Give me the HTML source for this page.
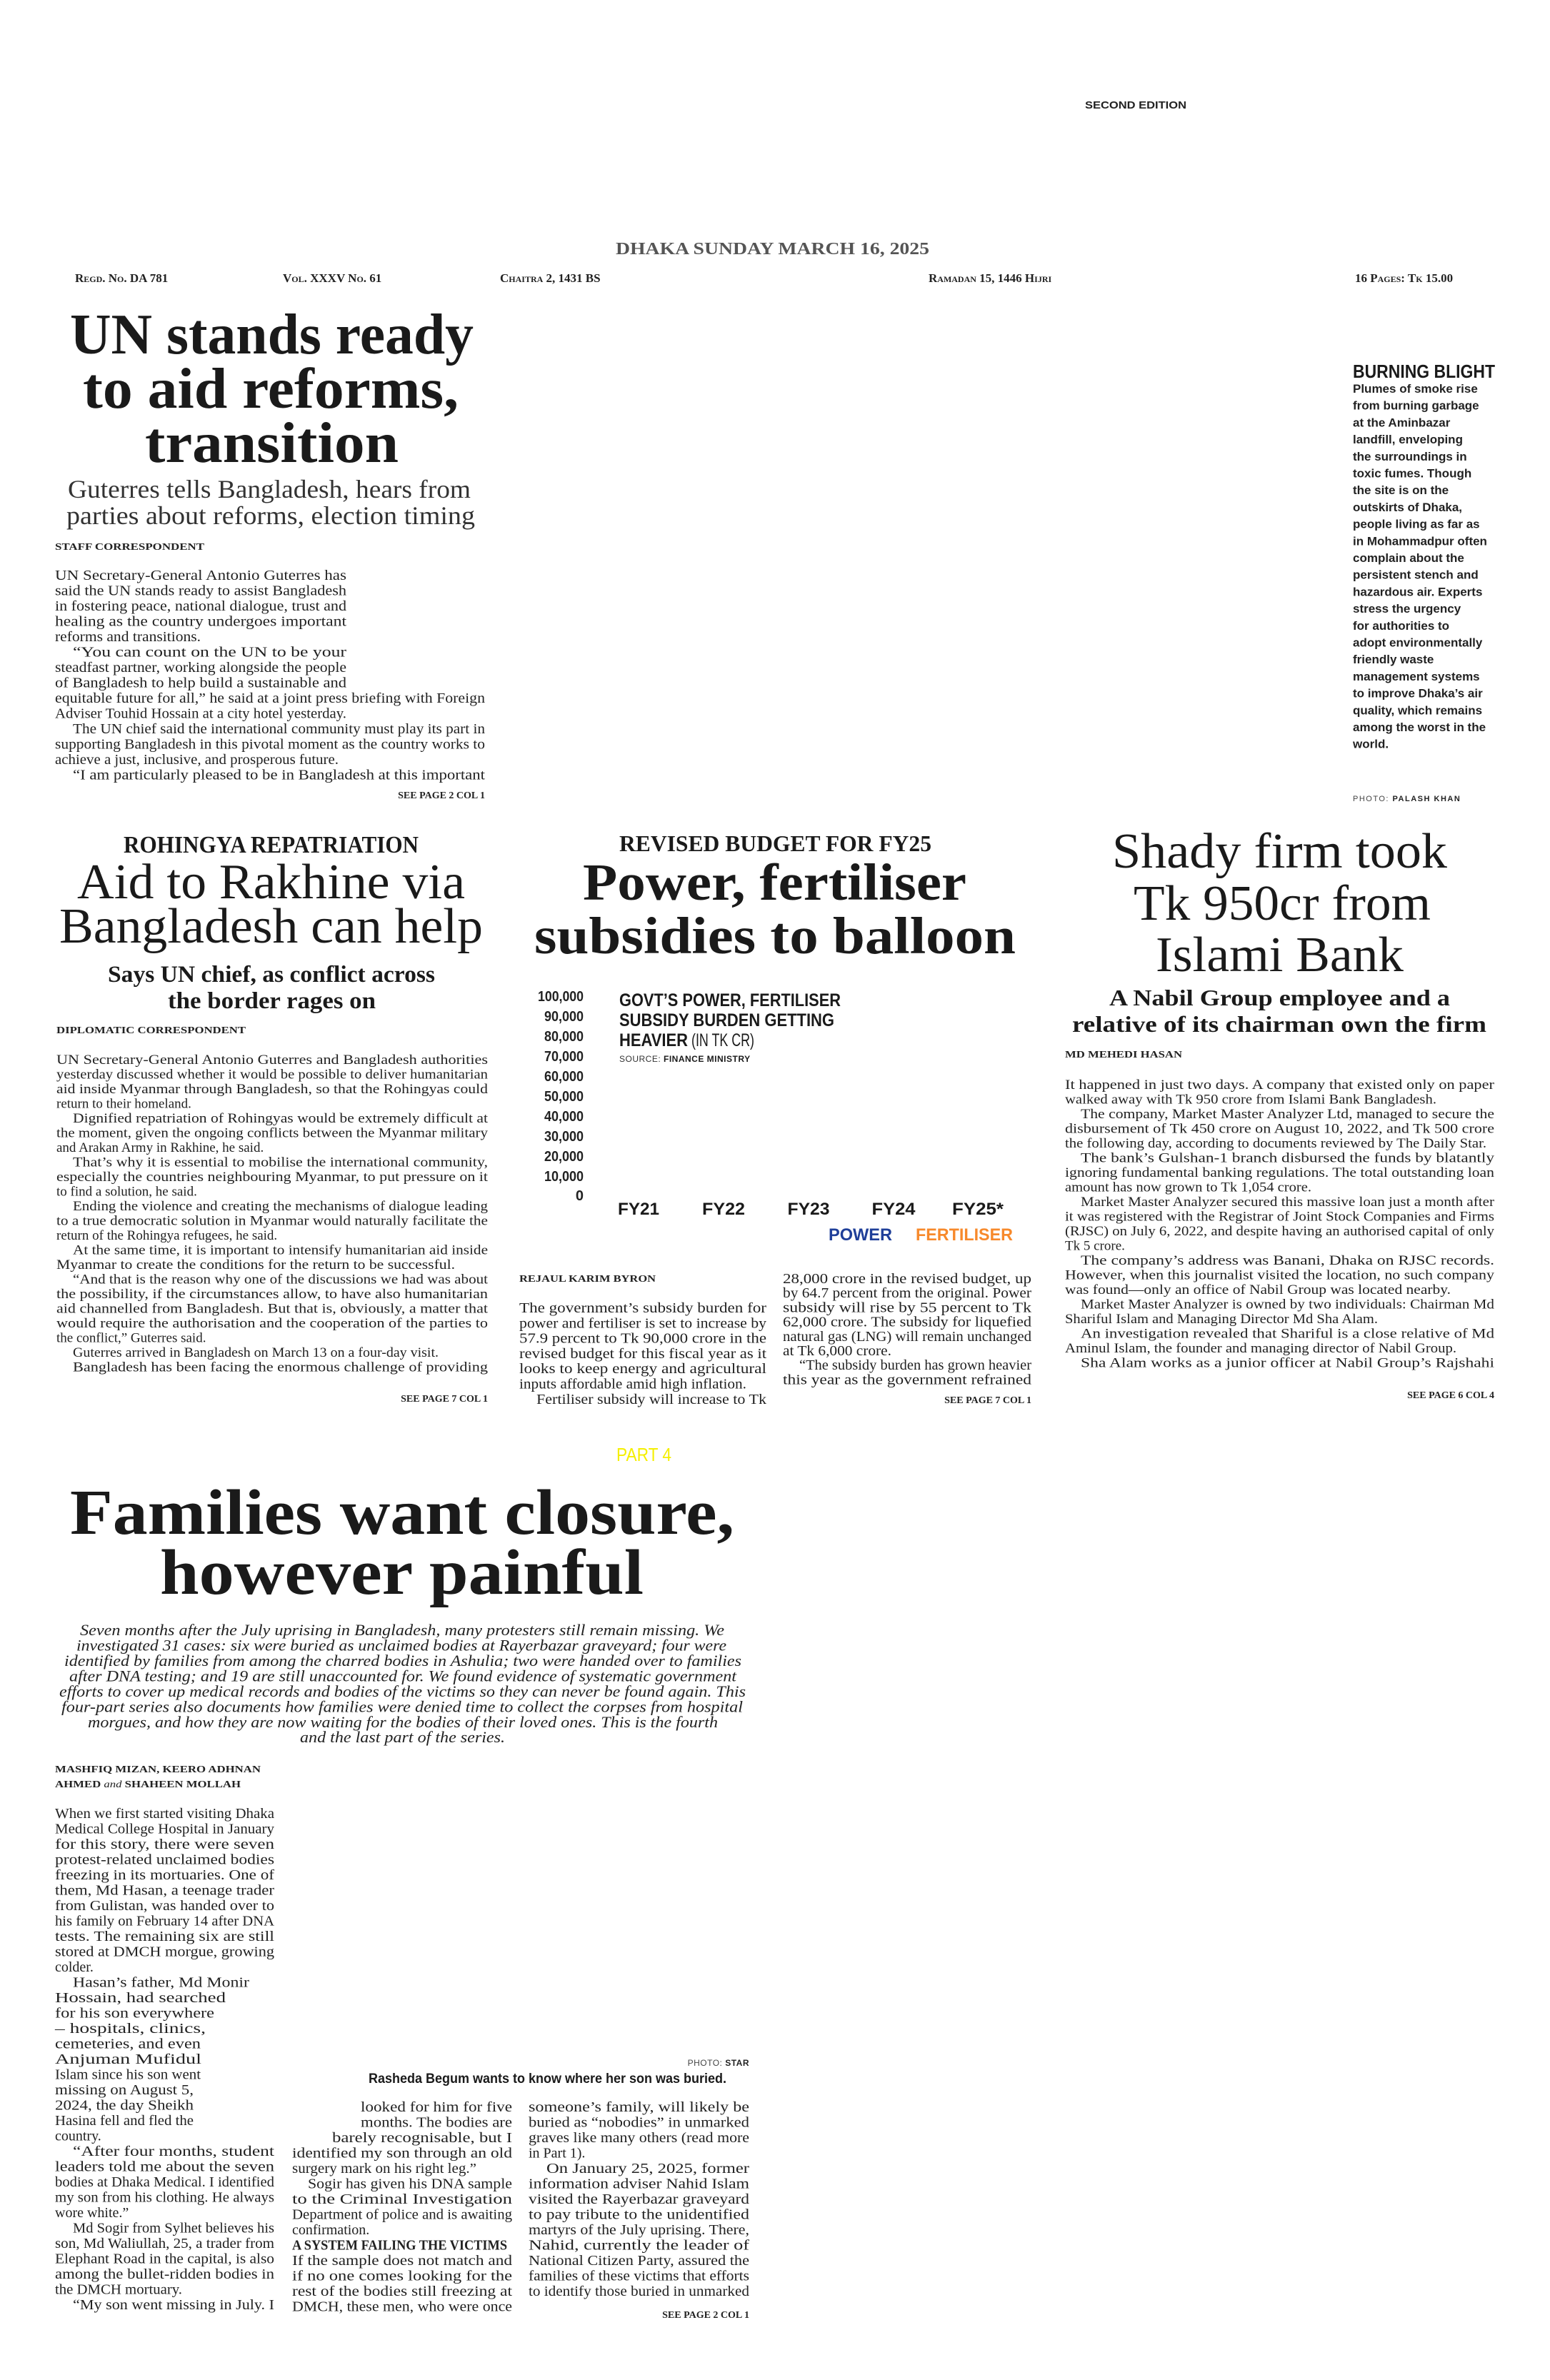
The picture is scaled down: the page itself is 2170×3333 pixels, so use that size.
<!DOCTYPE html>
<html><head><meta charset="utf-8">
<style>
html,body{margin:0;padding:0;background:#fff;}
svg{display:block;}
.s{font-family:"Liberation Serif",serif;}
.a{font-family:"Liberation Sans",sans-serif;}
.b{font-family:"Liberation Serif",serif;font-size:20px;fill:#222;}
.r{font-family:"Liberation Serif",serif;font-size:19px;fill:#222;}
.hl{font-family:"Liberation Serif",serif;font-weight:bold;fill:#1a1a1a;}
.bl{font-family:"Liberation Sans",sans-serif;font-weight:bold;font-size:17px;fill:#222;}
.by{font-family:"Liberation Serif",serif;font-weight:bold;font-size:14px;fill:#222;}
.meta{font-family:"Liberation Serif",serif;font-weight:bold;font-size:17px;fill:#222;font-variant:small-caps;}
.ax{font-family:"Liberation Sans",sans-serif;font-weight:bold;font-size:20px;fill:#222;}
.it{font-family:"Liberation Serif",serif;font-style:italic;font-size:22px;fill:#222;}
</style></head><body>
<svg width="2170" height="3333" viewBox="0 0 2170 3333" xmlns="http://www.w3.org/2000/svg">
<rect width="2170" height="3333" fill="#fff"/>

<text class="a" x="1519" y="152" font-size="15" font-weight="bold" fill="#222" textLength="142" lengthAdjust="spacingAndGlyphs">SECOND EDITION</text>
<text class="s" x="862" y="356" font-size="24" font-weight="bold" fill="#555" textLength="439" lengthAdjust="spacingAndGlyphs">DHAKA SUNDAY MARCH 16, 2025</text>
<text class="meta" x="105" y="395">Regd. No. DA 781</text>
<text class="meta" x="396" y="395">Vol. XXXV No. 61</text>
<text class="meta" x="700" y="395">Chaitra 2, 1431 BS</text>
<text class="meta" x="1300" y="395">Ramadan 15, 1446 Hijri</text>
<text class="meta" x="1897" y="395">16 Pages: Tk 15.00</text>

<text class="hl" x="98" y="495" font-size="80" textLength="565" lengthAdjust="spacingAndGlyphs">UN stands ready</text>
<text class="hl" x="116" y="571" font-size="80" textLength="526" lengthAdjust="spacingAndGlyphs">to aid reforms,</text>
<text class="hl" x="203" y="647" font-size="80" textLength="355" lengthAdjust="spacingAndGlyphs">transition</text>
<text class="s" x="95" y="697" font-size="36" fill="#333" textLength="564" lengthAdjust="spacingAndGlyphs">Guterres tells Bangladesh, hears from</text>
<text class="s" x="93" y="734" font-size="36" fill="#333" textLength="572" lengthAdjust="spacingAndGlyphs">parties about reforms, election timing</text>
<text class="by" x="77" y="770" textLength="209" lengthAdjust="spacingAndGlyphs">STAFF CORRESPONDENT</text>
<g class="b">
<text x="77" y="812" textLength="408" lengthAdjust="spacingAndGlyphs">UN Secretary-General Antonio Guterres has</text>
<text x="77" y="833.5" textLength="408" lengthAdjust="spacingAndGlyphs">said the UN stands ready to assist Bangladesh</text>
<text x="77" y="855" textLength="408" lengthAdjust="spacingAndGlyphs">in fostering peace, national dialogue, trust and</text>
<text x="77" y="876.5" textLength="408" lengthAdjust="spacingAndGlyphs">healing as the country undergoes important</text>
<text x="77" y="898" textLength="204" lengthAdjust="spacingAndGlyphs">reforms and transitions.</text>
<text x="102" y="919.5" textLength="383" lengthAdjust="spacingAndGlyphs">“You can count on the UN to be your</text>
<text x="77" y="941" textLength="408" lengthAdjust="spacingAndGlyphs">steadfast partner, working alongside the people</text>
<text x="77" y="962.5" textLength="408" lengthAdjust="spacingAndGlyphs">of Bangladesh to help build a sustainable and</text>
<text x="77" y="984" textLength="602" lengthAdjust="spacingAndGlyphs">equitable future for all,” he said at a joint press briefing with Foreign</text>
<text x="77" y="1005.5" textLength="408" lengthAdjust="spacingAndGlyphs">Adviser Touhid Hossain at a city hotel yesterday.</text>
<text x="102" y="1027" textLength="577" lengthAdjust="spacingAndGlyphs">The UN chief said the international community must play its part in</text>
<text x="77" y="1048.5" textLength="602" lengthAdjust="spacingAndGlyphs">supporting Bangladesh in this pivotal moment as the country works to</text>
<text x="77" y="1070" textLength="397" lengthAdjust="spacingAndGlyphs">achieve a just, inclusive, and prosperous future.</text>
<text x="102" y="1091.5" textLength="577" lengthAdjust="spacingAndGlyphs">“I am particularly pleased to be in Bangladesh at this important</text>
</g>
<text class="by" x="679" y="1118" text-anchor="end" font-size="13">SEE PAGE 2 COL 1</text>

<text class="a" x="1894" y="529" font-size="26" font-weight="bold" fill="#1a1a1a" textLength="199" lengthAdjust="spacingAndGlyphs">BURNING BLIGHT</text>
<g class="bl">
<text x="1894" y="550">Plumes of smoke rise</text>
<text x="1894" y="573.7">from burning garbage</text>
<text x="1894" y="597.4">at the Aminbazar</text>
<text x="1894" y="621.1">landfill, enveloping</text>
<text x="1894" y="644.8">the surroundings in</text>
<text x="1894" y="668.5">toxic fumes. Though</text>
<text x="1894" y="692.2">the site is on the</text>
<text x="1894" y="715.9">outskirts of Dhaka,</text>
<text x="1894" y="739.6">people living as far as</text>
<text x="1894" y="763.3">in Mohammadpur often</text>
<text x="1894" y="787">complain about the</text>
<text x="1894" y="810.7">persistent stench and</text>
<text x="1894" y="834.4">hazardous air. Experts</text>
<text x="1894" y="858.1">stress the urgency</text>
<text x="1894" y="881.8">for authorities to</text>
<text x="1894" y="905.5">adopt environmentally</text>
<text x="1894" y="929.2">friendly waste</text>
<text x="1894" y="952.9">management systems</text>
<text x="1894" y="976.6">to improve Dhaka’s air</text>
<text x="1894" y="1000.3">quality, which remains</text>
<text x="1894" y="1024">among the worst in the</text>
<text x="1894" y="1047.7">world.</text>
</g>
<text class="a" x="1894" y="1122" font-size="11" fill="#444" letter-spacing="1.5">PHOTO: <tspan font-weight="bold" fill="#222">PALASH KHAN</tspan></text>

<text class="hl" x="173" y="1194" font-size="34" textLength="413" lengthAdjust="spacingAndGlyphs">ROHINGYA REPATRIATION</text>
<text class="s" x="108" y="1258" font-size="70" fill="#1a1a1a" textLength="543" lengthAdjust="spacingAndGlyphs">Aid to Rakhine via</text>
<text class="s" x="83" y="1320" font-size="70" fill="#1a1a1a" textLength="593" lengthAdjust="spacingAndGlyphs">Bangladesh can help</text>
<text class="hl" x="151" y="1375" font-size="33" textLength="458" lengthAdjust="spacingAndGlyphs">Says UN chief, as conflict across</text>
<text class="hl" x="235" y="1412" font-size="33" textLength="291" lengthAdjust="spacingAndGlyphs">the border rages on</text>
<text class="by" x="79" y="1447" textLength="265" lengthAdjust="spacingAndGlyphs">DIPLOMATIC CORRESPONDENT</text>
<g class="r">
<text x="79" y="1490" textLength="604" lengthAdjust="spacingAndGlyphs">UN Secretary-General Antonio Guterres and Bangladesh authorities</text>
<text x="79" y="1510.5" textLength="604" lengthAdjust="spacingAndGlyphs">yesterday discussed whether it would be possible to deliver humanitarian</text>
<text x="79" y="1531" textLength="604" lengthAdjust="spacingAndGlyphs">aid inside Myanmar through Bangladesh, so that the Rohingyas could</text>
<text x="79" y="1551.5">return to their homeland.</text>
<text x="102" y="1572" textLength="581" lengthAdjust="spacingAndGlyphs">Dignified repatriation of Rohingyas would be extremely difficult at</text>
<text x="79" y="1592.5" textLength="604" lengthAdjust="spacingAndGlyphs">the moment, given the ongoing conflicts between the Myanmar military</text>
<text x="79" y="1613">and Arakan Army in Rakhine, he said.</text>
<text x="102" y="1633.5" textLength="581" lengthAdjust="spacingAndGlyphs">That’s why it is essential to mobilise the international community,</text>
<text x="79" y="1654" textLength="604" lengthAdjust="spacingAndGlyphs">especially the countries neighbouring Myanmar, to put pressure on it</text>
<text x="79" y="1674.5">to find a solution, he said.</text>
<text x="102" y="1695" textLength="581" lengthAdjust="spacingAndGlyphs">Ending the violence and creating the mechanisms of dialogue leading</text>
<text x="79" y="1715.5" textLength="604" lengthAdjust="spacingAndGlyphs">to a true democratic solution in Myanmar would naturally facilitate the</text>
<text x="79" y="1736">return of the Rohingya refugees, he said.</text>
<text x="102" y="1756.5" textLength="581" lengthAdjust="spacingAndGlyphs">At the same time, it is important to intensify humanitarian aid inside</text>
<text x="79" y="1777" textLength="558" lengthAdjust="spacingAndGlyphs">Myanmar to create the conditions for the return to be successful.</text>
<text x="102" y="1797.5" textLength="581" lengthAdjust="spacingAndGlyphs">“And that is the reason why one of the discussions we had was about</text>
<text x="79" y="1818" textLength="604" lengthAdjust="spacingAndGlyphs">the possibility, if the circumstances allow, to have also humanitarian</text>
<text x="79" y="1838.5" textLength="604" lengthAdjust="spacingAndGlyphs">aid channelled from Bangladesh. But that is, obviously, a matter that</text>
<text x="79" y="1859" textLength="604" lengthAdjust="spacingAndGlyphs">would require the authorisation and the cooperation of the parties to</text>
<text x="79" y="1879.5">the conflict,” Guterres said.</text>
<text x="102" y="1900" textLength="512" lengthAdjust="spacingAndGlyphs">Guterres arrived in Bangladesh on March 13 on a four-day visit.</text>
<text x="102" y="1920.5" textLength="581" lengthAdjust="spacingAndGlyphs">Bangladesh has been facing the enormous challenge of providing</text>
</g>
<text class="by" x="683" y="1963" text-anchor="end" font-size="13">SEE PAGE 7 COL 1</text>

<text class="hl" x="867" y="1192" font-size="32" textLength="437" lengthAdjust="spacingAndGlyphs">REVISED BUDGET FOR FY25</text>
<text class="hl" x="816" y="1260" font-size="73" textLength="537" lengthAdjust="spacingAndGlyphs">Power, fertiliser</text>
<text class="hl" x="748" y="1335" font-size="73" textLength="674" lengthAdjust="spacingAndGlyphs">subsidies to balloon</text>
<g class="ax" text-anchor="end">
<text x="817" y="1402" textLength="64" lengthAdjust="spacingAndGlyphs">100,000</text>
<text x="817" y="1430" textLength="55" lengthAdjust="spacingAndGlyphs">90,000</text>
<text x="817" y="1458" textLength="55" lengthAdjust="spacingAndGlyphs">80,000</text>
<text x="817" y="1486" textLength="55" lengthAdjust="spacingAndGlyphs">70,000</text>
<text x="817" y="1514" textLength="55" lengthAdjust="spacingAndGlyphs">60,000</text>
<text x="817" y="1542" textLength="55" lengthAdjust="spacingAndGlyphs">50,000</text>
<text x="817" y="1570" textLength="55" lengthAdjust="spacingAndGlyphs">40,000</text>
<text x="817" y="1598" textLength="55" lengthAdjust="spacingAndGlyphs">30,000</text>
<text x="817" y="1626" textLength="55" lengthAdjust="spacingAndGlyphs">20,000</text>
<text x="817" y="1654" textLength="55" lengthAdjust="spacingAndGlyphs">10,000</text>
<text x="817" y="1681">0</text>
</g>
<text class="a" x="867" y="1409" font-size="25" font-weight="bold" fill="#1a1a1a" textLength="310" lengthAdjust="spacingAndGlyphs">GOVT’S POWER, FERTILISER</text>
<text class="a" x="867" y="1437" font-size="25" font-weight="bold" fill="#1a1a1a" textLength="301" lengthAdjust="spacingAndGlyphs">SUBSIDY BURDEN GETTING</text>
<text class="a" x="867" y="1465" font-size="25" font-weight="bold" fill="#1a1a1a" textLength="96" lengthAdjust="spacingAndGlyphs">HEAVIER</text>
<text class="a" x="968" y="1465" font-size="25" fill="#1a1a1a" textLength="88" lengthAdjust="spacingAndGlyphs">(IN TK CR)</text>
<text class="a" x="867" y="1487" font-size="12" fill="#333" letter-spacing="0.5">SOURCE: <tspan font-weight="bold" fill="#1a1a1a">FINANCE MINISTRY</tspan></text>
<g class="a" font-size="24" font-weight="bold" fill="#1a1a1a" text-anchor="middle">
<text x="894" y="1701" textLength="58" lengthAdjust="spacingAndGlyphs">FY21</text>
<text x="1013" y="1701" textLength="60" lengthAdjust="spacingAndGlyphs">FY22</text>
<text x="1132" y="1701" textLength="59" lengthAdjust="spacingAndGlyphs">FY23</text>
<text x="1251" y="1701" textLength="61" lengthAdjust="spacingAndGlyphs">FY24</text>
<text x="1369" y="1701" textLength="72" lengthAdjust="spacingAndGlyphs">FY25*</text>
</g>
<text class="a" x="1160" y="1737" font-size="24" font-weight="bold" fill="#1f3f99" textLength="89" lengthAdjust="spacingAndGlyphs">POWER</text>
<text class="a" x="1282" y="1737" font-size="24" font-weight="bold" fill="#f7892b" textLength="136" lengthAdjust="spacingAndGlyphs">FERTILISER</text>
<text class="by" x="727" y="1795" textLength="191" lengthAdjust="spacingAndGlyphs">REJAUL KARIM BYRON</text>
<g class="b">
<text x="727" y="1838" textLength="346" lengthAdjust="spacingAndGlyphs">The government’s subsidy burden for</text>
<text x="727" y="1859.3" textLength="346" lengthAdjust="spacingAndGlyphs">power and fertiliser is set to increase by</text>
<text x="727" y="1880.6" textLength="346" lengthAdjust="spacingAndGlyphs">57.9 percent to Tk 90,000 crore in the</text>
<text x="727" y="1901.9" textLength="346" lengthAdjust="spacingAndGlyphs">revised budget for this fiscal year as it</text>
<text x="727" y="1923.2" textLength="346" lengthAdjust="spacingAndGlyphs">looks to keep energy and agricultural</text>
<text x="727" y="1944.5" textLength="318" lengthAdjust="spacingAndGlyphs">inputs affordable amid high inflation.</text>
<text x="751" y="1965.8" textLength="322" lengthAdjust="spacingAndGlyphs">Fertiliser subsidy will increase to Tk</text>
<text x="1096" y="1797" textLength="348" lengthAdjust="spacingAndGlyphs">28,000 crore in the revised budget, up</text>
<text x="1096" y="1817.2" textLength="348" lengthAdjust="spacingAndGlyphs">by 64.7 percent from the original. Power</text>
<text x="1096" y="1837.4" textLength="348" lengthAdjust="spacingAndGlyphs">subsidy will rise by 55 percent to Tk</text>
<text x="1096" y="1857.6" textLength="348" lengthAdjust="spacingAndGlyphs">62,000 crore. The subsidy for liquefied</text>
<text x="1096" y="1877.8" textLength="348" lengthAdjust="spacingAndGlyphs">natural gas (LNG) will remain unchanged</text>
<text x="1096" y="1898" textLength="152" lengthAdjust="spacingAndGlyphs">at Tk 6,000 crore.</text>
<text x="1119" y="1918.2" textLength="325" lengthAdjust="spacingAndGlyphs">“The subsidy burden has grown heavier</text>
<text x="1096" y="1938.4" textLength="348" lengthAdjust="spacingAndGlyphs">this year as the government refrained</text>
</g>
<text class="by" x="1444" y="1965" text-anchor="end" font-size="13">SEE PAGE 7 COL 1</text>

<text class="s" x="1557" y="1215" font-size="70" fill="#1a1a1a" textLength="469" lengthAdjust="spacingAndGlyphs">Shady firm took</text>
<text class="s" x="1587" y="1288" font-size="70" fill="#1a1a1a" textLength="416" lengthAdjust="spacingAndGlyphs">Tk 950cr from</text>
<text class="s" x="1618" y="1360" font-size="70" fill="#1a1a1a" textLength="347" lengthAdjust="spacingAndGlyphs">Islami Bank</text>
<text class="hl" x="1553" y="1408" font-size="32" textLength="477" lengthAdjust="spacingAndGlyphs">A Nabil Group employee and a</text>
<text class="hl" x="1501" y="1445" font-size="32" textLength="580" lengthAdjust="spacingAndGlyphs">relative of its chairman own the firm</text>
<text class="by" x="1491" y="1481" textLength="164" lengthAdjust="spacingAndGlyphs">MD MEHEDI HASAN</text>
<g class="r">
<text x="1491" y="1525" textLength="601" lengthAdjust="spacingAndGlyphs">It happened in just two days. A company that existed only on paper</text>
<text x="1491" y="1545.5" textLength="520" lengthAdjust="spacingAndGlyphs">walked away with Tk 950 crore from Islami Bank Bangladesh.</text>
<text x="1513" y="1566" textLength="579" lengthAdjust="spacingAndGlyphs">The company, Market Master Analyzer Ltd, managed to secure the</text>
<text x="1491" y="1586.5" textLength="601" lengthAdjust="spacingAndGlyphs">disbursement of Tk 450 crore on August 10, 2022, and Tk 500 crore</text>
<text x="1491" y="1607" textLength="590" lengthAdjust="spacingAndGlyphs">the following day, according to documents reviewed by The Daily Star.</text>
<text x="1513" y="1627.5" textLength="579" lengthAdjust="spacingAndGlyphs">The bank’s Gulshan-1 branch disbursed the funds by blatantly</text>
<text x="1491" y="1648" textLength="601" lengthAdjust="spacingAndGlyphs">ignoring fundamental banking regulations. The total outstanding loan</text>
<text x="1491" y="1668.5" textLength="345" lengthAdjust="spacingAndGlyphs">amount has now grown to Tk 1,054 crore.</text>
<text x="1513" y="1689" textLength="579" lengthAdjust="spacingAndGlyphs">Market Master Analyzer secured this massive loan just a month after</text>
<text x="1491" y="1709.5" textLength="601" lengthAdjust="spacingAndGlyphs">it was registered with the Registrar of Joint Stock Companies and Firms</text>
<text x="1491" y="1730" textLength="601" lengthAdjust="spacingAndGlyphs">(RJSC) on July 6, 2022, and despite having an authorised capital of only</text>
<text x="1491" y="1750.5">Tk 5 crore.</text>
<text x="1513" y="1771" textLength="579" lengthAdjust="spacingAndGlyphs">The company’s address was Banani, Dhaka on RJSC records.</text>
<text x="1491" y="1791.5" textLength="601" lengthAdjust="spacingAndGlyphs">However, when this journalist visited the location, no such company</text>
<text x="1491" y="1812" textLength="540" lengthAdjust="spacingAndGlyphs">was found—only an office of Nabil Group was located nearby.</text>
<text x="1513" y="1832.5" textLength="579" lengthAdjust="spacingAndGlyphs">Market Master Analyzer is owned by two individuals: Chairman Md</text>
<text x="1491" y="1853" textLength="438" lengthAdjust="spacingAndGlyphs">Shariful Islam and Managing Director Md Sha Alam.</text>
<text x="1513" y="1873.5" textLength="579" lengthAdjust="spacingAndGlyphs">An investigation revealed that Shariful is a close relative of Md</text>
<text x="1491" y="1894" textLength="548" lengthAdjust="spacingAndGlyphs">Aminul Islam, the founder and managing director of Nabil Group.</text>
<text x="1513" y="1914.5" textLength="579" lengthAdjust="spacingAndGlyphs">Sha Alam works as a junior officer at Nabil Group’s Rajshahi</text>
</g>
<text class="by" x="2092" y="1958" text-anchor="end" font-size="13">SEE PAGE 6 COL 4</text>

<text class="a" x="863" y="2046" font-size="26" fill="#f5ef00" textLength="77" lengthAdjust="spacingAndGlyphs">PART 4</text>
<text class="hl" x="98" y="2148" font-size="90" textLength="930" lengthAdjust="spacingAndGlyphs">Families want closure,</text>
<text class="hl" x="224" y="2232" font-size="90" textLength="677" lengthAdjust="spacingAndGlyphs">however painful</text>
<g class="it">
<text x="112" y="2290" textLength="902" lengthAdjust="spacingAndGlyphs">Seven months after the July uprising in Bangladesh, many protesters still remain missing. We</text>
<text x="107" y="2311.5" textLength="910" lengthAdjust="spacingAndGlyphs">investigated 31 cases: six were buried as unclaimed bodies at Rayerbazar graveyard; four were</text>
<text x="90" y="2333" textLength="948" lengthAdjust="spacingAndGlyphs">identified by families from among the charred bodies in Ashulia; two were handed over to families</text>
<text x="97" y="2354.5" textLength="934" lengthAdjust="spacingAndGlyphs">after DNA testing; and 19 are still unaccounted for. We found evidence of systematic government</text>
<text x="83" y="2376" textLength="961" lengthAdjust="spacingAndGlyphs">efforts to cover up medical records and bodies of the victims so they can never be found again. This</text>
<text x="86" y="2397.5" textLength="954" lengthAdjust="spacingAndGlyphs">four-part series also documents how families were denied time to collect the corpses from hospital</text>
<text x="123" y="2419" textLength="882" lengthAdjust="spacingAndGlyphs">morgues, and how they are now waiting for the bodies of their loved ones. This is the fourth</text>
<text x="420" y="2440" textLength="287" lengthAdjust="spacingAndGlyphs">and the last part of the series.</text>
</g>
<text class="by" x="77" y="2482" font-size="15" textLength="288" lengthAdjust="spacingAndGlyphs">MASHFIQ MIZAN, KEERO ADHNAN</text>
<text class="by" x="77" y="2503" font-size="15" textLength="260" lengthAdjust="spacingAndGlyphs">AHMED <tspan font-style="italic" font-weight="normal">and</tspan> SHAHEEN MOLLAH</text>

<g class="b">
<text x="77" y="2546" textLength="307" lengthAdjust="spacingAndGlyphs">When we first started visiting Dhaka</text>
<text x="77" y="2567.5" textLength="307" lengthAdjust="spacingAndGlyphs">Medical College Hospital in January</text>
<text x="77" y="2589" textLength="307" lengthAdjust="spacingAndGlyphs">for this story, there were seven</text>
<text x="77" y="2610.5" textLength="307" lengthAdjust="spacingAndGlyphs">protest-related unclaimed bodies</text>
<text x="77" y="2632" textLength="307" lengthAdjust="spacingAndGlyphs">freezing in its mortuaries. One of</text>
<text x="77" y="2653.5" textLength="307" lengthAdjust="spacingAndGlyphs">them, Md Hasan, a teenage trader</text>
<text x="77" y="2675" textLength="307" lengthAdjust="spacingAndGlyphs">from Gulistan, was handed over to</text>
<text x="77" y="2696.5" textLength="307" lengthAdjust="spacingAndGlyphs">his family on February 14 after DNA</text>
<text x="77" y="2718" textLength="307" lengthAdjust="spacingAndGlyphs">tests.  The remaining six are still</text>
<text x="77" y="2739.5" textLength="307" lengthAdjust="spacingAndGlyphs">stored at DMCH morgue, growing</text>
<text x="77" y="2761">colder.</text>
<text x="102" y="2782.5" textLength="247" lengthAdjust="spacingAndGlyphs">Hasan’s father, Md Monir</text>
<text x="77" y="2804" textLength="239" lengthAdjust="spacingAndGlyphs">Hossain, had searched</text>
<text x="77" y="2825.5" textLength="223" lengthAdjust="spacingAndGlyphs">for his son everywhere</text>
<text x="77" y="2847" textLength="211" lengthAdjust="spacingAndGlyphs">– hospitals, clinics,</text>
<text x="77" y="2868.5" textLength="204" lengthAdjust="spacingAndGlyphs">cemeteries, and even</text>
<text x="77" y="2890" textLength="205" lengthAdjust="spacingAndGlyphs">Anjuman Mufidul</text>
<text x="77" y="2911.5" textLength="204" lengthAdjust="spacingAndGlyphs">Islam since his son went</text>
<text x="77" y="2933" textLength="194" lengthAdjust="spacingAndGlyphs">missing on August 5,</text>
<text x="77" y="2954.5" textLength="194" lengthAdjust="spacingAndGlyphs">2024, the day Sheikh</text>
<text x="77" y="2976" textLength="194" lengthAdjust="spacingAndGlyphs">Hasina fell and fled the</text>
<text x="77" y="2997.5">country.</text>
<text x="102" y="3019" textLength="282" lengthAdjust="spacingAndGlyphs">“After four months, student</text>
<text x="77" y="3040.5" textLength="307" lengthAdjust="spacingAndGlyphs">leaders told me about the seven</text>
<text x="77" y="3062" textLength="307" lengthAdjust="spacingAndGlyphs">bodies at Dhaka Medical. I identified</text>
<text x="77" y="3083.5" textLength="307" lengthAdjust="spacingAndGlyphs">my son from his clothing. He always</text>
<text x="77" y="3105">wore white.”</text>
<text x="102" y="3126.5" textLength="282" lengthAdjust="spacingAndGlyphs">Md Sogir from Sylhet believes his</text>
<text x="77" y="3148" textLength="307" lengthAdjust="spacingAndGlyphs">son, Md Waliullah, 25, a trader from</text>
<text x="77" y="3169.5" textLength="307" lengthAdjust="spacingAndGlyphs">Elephant Road in the capital, is also</text>
<text x="77" y="3191" textLength="307" lengthAdjust="spacingAndGlyphs">among the bullet-ridden bodies in</text>
<text x="77" y="3212.5" textLength="178" lengthAdjust="spacingAndGlyphs">the DMCH mortuary.</text>
<text x="102" y="3234" textLength="282" lengthAdjust="spacingAndGlyphs">“My son went missing in July. I</text>
</g>

<text class="a" x="1049" y="2893" text-anchor="end" font-size="12" fill="#444" letter-spacing="0.5">PHOTO: <tspan font-weight="bold" fill="#222">STAR</tspan></text>
<text class="a" x="516" y="2917" font-size="19" font-weight="bold" fill="#1a1a1a" textLength="501" lengthAdjust="spacingAndGlyphs">Rasheda Begum wants to know where her son was buried.</text>

<g class="b">
<text x="505" y="2957" textLength="212" lengthAdjust="spacingAndGlyphs">looked for him for five</text>
<text x="505" y="2978.5" textLength="212" lengthAdjust="spacingAndGlyphs">months. The bodies are</text>
<text x="465" y="3000" textLength="252" lengthAdjust="spacingAndGlyphs">barely recognisable, but I</text>
<text x="409" y="3021.5" textLength="308" lengthAdjust="spacingAndGlyphs">identified my son through an old</text>
<text x="409" y="3043" textLength="258" lengthAdjust="spacingAndGlyphs">surgery mark on his right leg.”</text>
<text x="431" y="3064.5" textLength="286" lengthAdjust="spacingAndGlyphs">Sogir has given his DNA sample</text>
<text x="409" y="3086" textLength="308" lengthAdjust="spacingAndGlyphs">to the Criminal Investigation</text>
<text x="409" y="3107.5" textLength="308" lengthAdjust="spacingAndGlyphs">Department of police and is awaiting</text>
<text x="409" y="3129">confirmation.</text>
<text x="409" y="3150.5" font-weight="bold" textLength="301" lengthAdjust="spacingAndGlyphs">A SYSTEM FAILING THE VICTIMS</text>
<text x="409" y="3172" textLength="308" lengthAdjust="spacingAndGlyphs">If the sample does not match and</text>
<text x="409" y="3193.5" textLength="308" lengthAdjust="spacingAndGlyphs">if no one comes looking for the</text>
<text x="409" y="3215" textLength="308" lengthAdjust="spacingAndGlyphs">rest of the bodies still freezing at</text>
<text x="409" y="3236.5" textLength="308" lengthAdjust="spacingAndGlyphs">DMCH, these men, who were once</text>

<text x="740" y="2957" textLength="309" lengthAdjust="spacingAndGlyphs">someone’s family, will likely be</text>
<text x="740" y="2978.5" textLength="309" lengthAdjust="spacingAndGlyphs">buried as “nobodies” in unmarked</text>
<text x="740" y="3000" textLength="309" lengthAdjust="spacingAndGlyphs">graves like many others (read more</text>
<text x="740" y="3021.5">in Part 1).</text>
<text x="765" y="3043" textLength="284" lengthAdjust="spacingAndGlyphs">On January 25, 2025, former</text>
<text x="740" y="3064.5" textLength="309" lengthAdjust="spacingAndGlyphs">information adviser Nahid Islam</text>
<text x="740" y="3086" textLength="309" lengthAdjust="spacingAndGlyphs">visited the Rayerbazar graveyard</text>
<text x="740" y="3107.5" textLength="309" lengthAdjust="spacingAndGlyphs">to pay tribute to the unidentified</text>
<text x="740" y="3129" textLength="309" lengthAdjust="spacingAndGlyphs">martyrs of the July uprising. There,</text>
<text x="740" y="3150.5" textLength="309" lengthAdjust="spacingAndGlyphs">Nahid, currently the leader of</text>
<text x="740" y="3172" textLength="309" lengthAdjust="spacingAndGlyphs">National Citizen Party, assured the</text>
<text x="740" y="3193.5" textLength="309" lengthAdjust="spacingAndGlyphs">families of these victims that efforts</text>
<text x="740" y="3215" textLength="309" lengthAdjust="spacingAndGlyphs">to identify those buried in unmarked</text>
</g>
<text class="by" x="1049" y="3246" text-anchor="end" font-size="13">SEE PAGE 2 COL 1</text>
</svg>
</body></html>
